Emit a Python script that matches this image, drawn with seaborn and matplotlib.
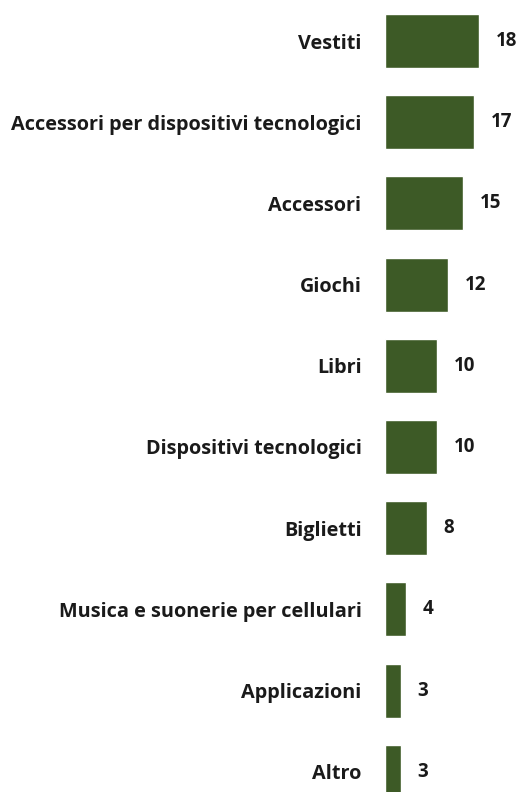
import matplotlib
matplotlib.use("Agg")
import matplotlib.pyplot as plt
import seaborn as sns
import pandas as pd

# dati
categorie = ["Vestiti", "Accessori per dispositivi tecnologici", "Accessori", "Giochi",
             "Libri", "Dispositivi tecnologici", "Biglietti",
             "Musica e suonerie per cellulari", "Applicazioni", "Altro"]
valori = [18, 17, 15, 12, 10, 10, 8, 4, 3, 3]

colore = "#3d5a26"

sns.set_theme(style="white")
plt.rcParams['font.family'] = ['Open Sans', 'DejaVu Sans']

df = pd.DataFrame({"categoria": categorie, "valore": valori})

fig = plt.figure(figsize=(5.21, 7.92), dpi=100)
ax = fig.add_axes([385 / 521, 0, 136 / 521, 1])

sns.barplot(data=df, x="valore", y="categoria", orient="h", color=colore,
            saturation=1, width=0.665, ax=ax)

ax.set_xlim(0, 26)
ax.set_ylim(9.25, -0.505)
ax.bar_label(ax.containers[0], padding=12, fontsize=13.5, fontweight="bold",
             color="#1a1a1a")

ax.set_xlabel("")
ax.set_ylabel("")
ax.set_xticks([])
ax.tick_params(axis="y", length=0, pad=17)
for lab in ax.get_yticklabels():
    lab.set_fontsize(14.3)
    lab.set_fontweight("bold")
    lab.set_color("#1a1a1a")
sns.despine(ax=ax, left=True, bottom=True)

fig.savefig("out.png", dpi=100)
